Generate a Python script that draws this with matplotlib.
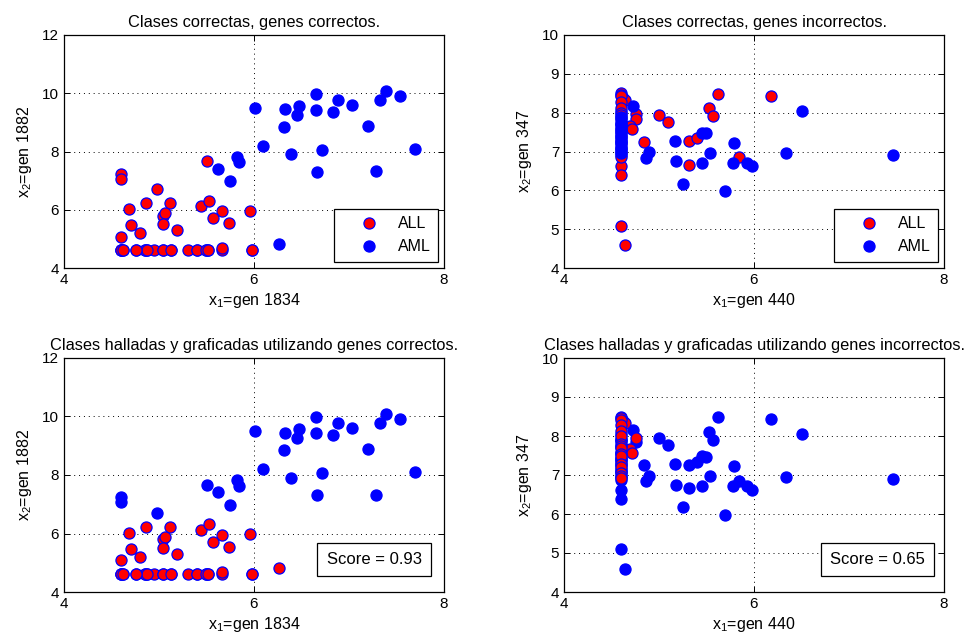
import matplotlib
matplotlib.use("Agg")
import matplotlib.pyplot as plt
from matplotlib.lines import Line2D
import numpy as np

plt.rcParams['font.family'] = ['Liberation Sans', 'DejaVu Sans']
plt.rcParams['mathtext.fontset'] = 'custom'
plt.rcParams['mathtext.rm'] = 'Liberation Sans'
plt.rcParams['mathtext.it'] = 'Liberation Sans'

# ---------------- Left panels: gen 1834 (x) vs gen 1882 (y) ----------------
left_x = [4.60, 4.60, 4.68, 4.86, 4.98, 5.12, 5.04, 5.06, 4.71, 5.04,
          4.80, 4.60, 5.19, 5.51, 5.44, 5.53, 5.66, 5.57, 5.74, 5.96,
          4.60, 4.62, 4.76, 4.85, 4.87, 4.95, 5.04, 5.13, 5.31, 5.40,
          5.50, 5.52, 5.66, 5.66, 5.98,
          4.60, 4.60, 4.62, 4.85, 4.87, 5.04, 5.40, 5.50, 5.52, 5.13, 4.76, 5.98,
          5.62, 5.75, 5.82, 5.84, 6.01, 6.09, 6.26, 6.33, 6.32, 6.39,
          6.45, 6.47, 6.65, 6.65, 6.66, 6.72, 6.83, 6.88, 7.03, 7.20,
          7.28, 7.33, 7.39, 7.54, 7.70]
left_y = [7.24, 7.07, 6.03, 6.23, 6.71, 6.22, 5.80, 5.89, 5.47, 5.51,
          5.21, 5.08, 5.31, 7.66, 6.13, 6.31, 5.94, 5.70, 5.54, 5.97,
          4.61, 4.61, 4.61, 4.61, 4.61, 4.61, 4.61, 4.61, 4.61, 4.61,
          4.61, 4.61, 4.61, 4.68, 4.61,
          4.61, 4.61, 4.61, 4.61, 4.61, 4.61, 4.61, 4.61, 4.61, 4.61, 4.61, 4.61,
          7.41, 6.98, 7.82, 7.64, 9.49, 8.20, 4.82, 9.45, 8.84, 7.91,
          9.26, 9.56, 9.98, 9.43, 7.30, 8.06, 9.36, 9.78, 9.59, 8.89,
          7.33, 9.78, 10.09, 9.90, 8.10]
left_true = ['ALL'] * 47 + ['AML'] * 25
left_pred = (['AML', 'AML', 'ALL', 'ALL', 'AML', 'ALL', 'ALL', 'ALL', 'ALL', 'ALL',
              'ALL', 'ALL', 'ALL', 'AML', 'ALL', 'ALL', 'ALL', 'ALL', 'ALL', 'ALL']
             + ['ALL'] * 27
             + ['AML'] * 6 + ['ALL'] + ['AML'] * 18)

# ---------------- Right panels: gen 440 (x) vs gen 347 (y) ----------------
right_x = [4.60, 4.62, 4.64, 4.60, 4.76, 4.76, 4.69, 4.72, 4.84, 5.00,
           5.09, 5.32, 5.40, 5.32, 5.53, 5.57, 5.62, 5.84, 6.18, 4.60,
           4.60, 4.60, 4.64,
           4.60, 4.60, 4.60, 4.60, 4.60, 4.60, 4.60, 4.60, 4.60, 4.60,
           4.60, 4.60, 4.60, 4.60, 4.60, 4.60, 4.60, 4.60, 4.60, 4.60,
           4.60, 4.60, 4.60, 4.60,
           4.73, 4.86, 4.89, 5.17, 5.18, 5.25, 5.45, 5.49, 5.45, 5.54,
           5.69, 5.78, 5.79, 5.93, 5.98, 6.34, 6.51, 7.46,
           4.60, 4.60, 4.60, 4.60, 4.60, 4.60, 4.60]
right_y = [8.50, 8.39, 8.33, 8.04, 7.96, 7.84, 7.66, 7.57, 7.25, 7.94,
           7.77, 7.26, 7.34, 6.66, 8.11, 7.91, 8.49, 6.85, 8.43, 6.62,
           6.39, 5.09, 4.59,
           8.46, 8.42, 8.28, 8.12, 8.00, 7.93, 7.86, 7.80, 7.74, 7.68,
           7.60, 7.53, 7.49, 7.44, 7.38, 7.33, 7.27, 7.21, 7.16, 7.10,
           7.04, 6.98, 6.92, 6.86,
           8.16, 6.84, 6.98, 7.27, 6.75, 6.17, 7.48, 7.47, 6.71, 6.97,
           5.98, 6.71, 7.22, 6.71, 6.62, 6.95, 8.05, 6.91,
           7.90, 7.72, 7.57, 7.40, 7.25, 7.08, 6.95]
right_true = ['ALL'] * 47 + ['AML'] * 25
right_pred = (['ALL', 'ALL', 'ALL', 'ALL', 'ALL', 'AML', 'ALL', 'ALL', 'AML', 'AML',
               'AML', 'AML', 'AML', 'AML', 'AML', 'AML', 'AML', 'AML', 'AML', 'AML',
               'AML', 'AML', 'AML']
              + ['ALL', 'ALL', 'ALL', 'ALL', 'ALL', 'AML', 'AML', 'ALL', 'ALL', 'ALL',
                 'AML', 'ALL', 'ALL', 'AML', 'AML', 'AML', 'ALL', 'ALL', 'AML', 'AML',
                 'ALL', 'ALL', 'ALL', 'AML']
              + ['AML'] * 25)

titles = ['Clases correctas, genes correctos.',
          'Clases correctas, genes incorrectos.',
          'Clases halladas y graficadas utilizando genes correctos.',
          'Clases halladas y graficadas utilizando genes incorrectos.']
scores = ['Score = 0.93', 'Score = 0.65']

W, H = 969, 644
fig = plt.figure(figsize=(W / 100, H / 100), dpi=100)

def ax_at(l, t, r, b):
    return fig.add_axes([l / W, 1 - b / H, (r - l) / W, (b - t) / H])

axes = [ax_at(64, 35, 444, 268), ax_at(564, 35, 944, 268),
        ax_at(64, 358, 444, 592), ax_at(564, 358, 944, 592)]

ms = 8.0
face = {'ALL': '#ff0000', 'AML': '#0000ff'}

def draw(ax, xs, ys, labels, order):
    xs = np.asarray(xs); ys = np.asarray(ys); labels = np.asarray(labels)
    for cls in order:
        m = labels == cls
        ax.plot(xs[m], ys[m], marker='o', ls='none', ms=ms, mfc=face[cls],
                mec='#0000ff', mew=0.9, zorder=3)

panels = [(left_x, left_y, left_true), (right_x, right_y, right_true),
          (left_x, left_y, left_pred), (right_x, right_y, right_pred)]
orders = [['ALL', 'AML'], ['ALL', 'AML'], ['AML', 'ALL'], ['AML', 'ALL']]
xlabels = ['x$_1$=gen 1834', 'x$_1$=gen 440', 'x$_1$=gen 1834', 'x$_1$=gen 440']
ylabels = ['x$_2$=gen 1882', 'x$_2$=gen 347', 'x$_2$=gen 1882', 'x$_2$=gen 347']

handles = [Line2D([], [], marker='o', ls='none', ms=ms, mfc=face[c], mec='#0000ff',
                  mew=0.9, label=c) for c in ['ALL', 'AML']]

for i, ax in enumerate(axes):
    xs, ys, lab = panels[i]
    draw(ax, xs, ys, lab, orders[i])
    ax.set_xlim(4, 8)
    ax.set_xticks([4, 6, 8])
    if i % 2 == 0:
        ax.set_ylim(4, 12)
        ax.set_yticks([4, 6, 8, 10, 12])
    else:
        ax.set_ylim(4, 10)
        ax.set_yticks([4, 5, 6, 7, 8, 9, 10])
    ax.set_axisbelow(True)
    ax.grid(True, linestyle=(0, (1, 4)), color='black', linewidth=0.7)
    ax.tick_params(direction='in', top=True, right=True, length=4, width=0.7,
                   labelsize=11)
    for s in ax.spines.values():
        s.set_linewidth(0.9)
        s.set_zorder(5)
    ax.set_title(titles[i], fontsize=11.8, pad=6)
    ax.set_xlabel(xlabels[i], fontsize=11.5, labelpad=3)
    ax.set_ylabel(ylabels[i], fontsize=11.5, labelpad=6)
    if i < 2:
        leg = ax.legend(handles=handles, loc='lower right', fontsize=11.5,
                        fancybox=False, edgecolor='black', framealpha=1,
                        borderaxespad=0.4, handletextpad=0.1, handlelength=3.4,
                        borderpad=0.45, labelspacing=0.5)
        leg.get_frame().set_linewidth(0.9)
        leg.set_zorder(10)
    else:
        xf = 0.816 if i == 2 else 0.825
        ax.text(xf, 0.139, scores[i - 2], transform=ax.transAxes, fontsize=12,
                ha='center', va='center', zorder=10,
                bbox=dict(boxstyle='square,pad=0.55', fc='white', ec='black', lw=0.9))

fig.savefig('out.png', dpi=100)
